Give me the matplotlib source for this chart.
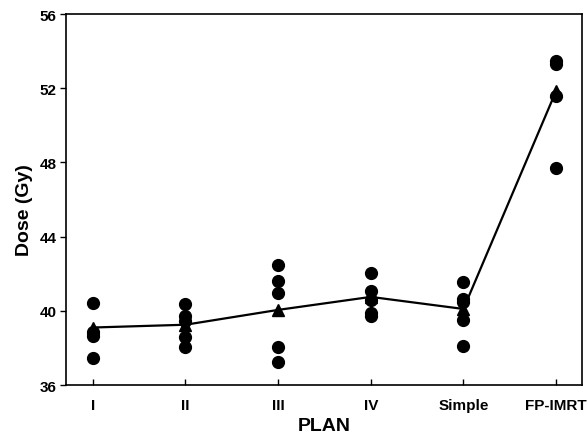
import numpy as np
import matplotlib
matplotlib.use('Agg')
import matplotlib.pyplot as plt

plt.rcParams['font.family'] = ['Liberation Sans', 'DejaVu Sans']

plans = ['I', 'II', 'III', 'IV', 'Simple', 'FP-IMRT']

# individual doses per plan (Gy)
dose_I = [40.4, 38.85, 38.65, 37.45]
dose_II = [40.35, 39.7, 39.45, 38.6, 38.05]
dose_III = [42.45, 41.6, 40.95, 38.05, 37.25]
dose_IV = [42.05, 41.05, 40.6, 39.9, 39.7]
dose_simple = [41.55, 40.65, 40.5, 39.5, 38.1]
dose_fp = [53.45, 53.3, 51.6, 47.7]

# plan means
mean_dose = [39.1, 39.25, 40.05, 40.75, 40.1, 51.85]

all_doses = [dose_I, dose_II, dose_III, dose_IV, dose_simple, dose_fp]

fig = plt.figure(figsize=(5.87, 4.35), dpi=100)
ax = fig.add_axes([0.1124, 0.1126, 0.8791, 0.8529])

x = np.arange(len(plans))
for i, d in enumerate(all_doses):
    ax.plot([x[i]] * len(d), d, 'o', color='black', markersize=8.5, zorder=3)

ax.plot(x, mean_dose, '-', color='black', linewidth=1.6, zorder=2)
ax.plot(x, mean_dose, '^', color='black', markersize=8, zorder=4)

ax.set_xlim(-0.29, 5.28)
ax.set_ylim(36, 56)
ax.set_yticks([36, 40, 44, 48, 52, 56])
ax.set_xticks(x)
ax.set_xticklabels(plans)

ax.tick_params(axis='x', direction='in', length=4, width=1, pad=9)
ax.tick_params(axis='y', direction='out', length=4, width=1, pad=3)
for lab in ax.get_xticklabels() + ax.get_yticklabels():
    lab.set_fontweight('bold')
    lab.set_fontsize(11)
for s in ax.spines.values():
    s.set_linewidth(1.2)

ax.set_xlabel('PLAN', fontsize=14, fontweight='bold', labelpad=4)
ax.set_ylabel('Dose (Gy)', fontsize=14, fontweight='bold')
ax.yaxis.set_label_coords(-0.064, 0.474)

plt.savefig('out.png', dpi=100)
